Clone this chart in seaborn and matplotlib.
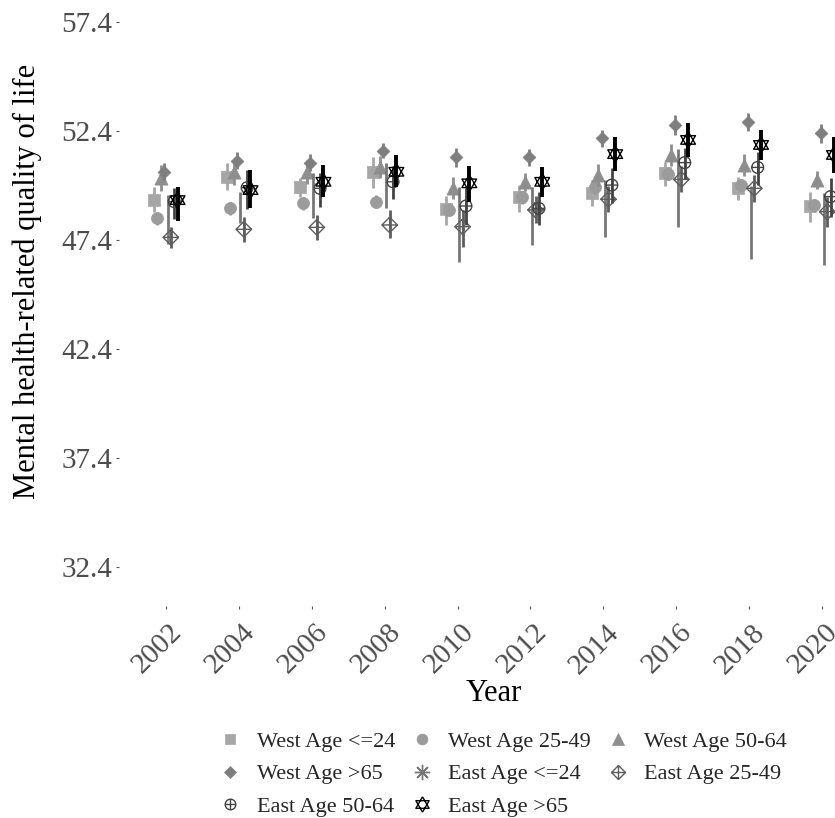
import numpy as np
import pandas as pd
import matplotlib
matplotlib.use("Agg")
import matplotlib.pyplot as plt
import matplotlib.transforms as mtransforms
from matplotlib.path import Path
from matplotlib.lines import Line2D
import seaborn as sns

# ---------------- data ----------------
years = [2002, 2004, 2006, 2008, 2010, 2012, 2014, 2016, 2018, 2020]
groups = ["West Age <=24", "West Age 25-49", "West Age 50-64", "West Age >65",
          "East Age <=24", "East Age 25-49", "East Age 50-64", "East Age >65"]
y_ticks = [32.4, 37.4, 42.4, 47.4, 52.4, 57.4]

west_le24 = [49.23, 50.30, 49.85, 50.53, 48.80, 49.36, 49.57, 50.49, 49.77, 48.96]
west_le24_lo = [48.70, 49.69, 49.39, 49.77, 48.10, 48.70, 48.96, 49.90, 49.23, 48.24]
west_le24_hi = [49.85, 50.92, 50.23, 51.19, 49.40, 49.92, 50.15, 51.00, 50.30, 49.62]

west_25_49 = [48.39, 48.85, 49.08, 49.16, 48.78, 49.36, 49.82, 50.43, 49.92, 49.00]
west_25_49_lo = [48.09, 48.55, 48.78, 48.86, 48.48, 49.06, 49.52, 50.13, 49.62, 48.70]
west_25_49_hi = [48.69, 49.15, 49.38, 49.46, 49.08, 49.66, 50.12, 50.73, 50.22, 49.30]

west_50_64 = [50.23, 50.53, 50.53, 50.76, 49.77, 50.07, 50.38, 51.30, 50.84, 50.15]
west_50_64_lo = [49.63, 49.93, 49.98, 50.26, 49.27, 49.67, 49.88, 50.80, 50.34, 49.75]
west_50_64_hi = [50.83, 51.13, 51.08, 51.26, 50.27, 50.47, 50.88, 51.80, 51.34, 50.55]

west_gt65 = [50.53, 51.04, 50.95, 51.50, 51.19, 51.19, 52.06, 52.68, 52.80, 52.29]
west_gt65_lo = [50.15, 50.66, 50.57, 51.15, 50.74, 50.79, 51.66, 52.23, 52.38, 51.87]
west_gt65_hi = [50.91, 51.42, 51.33, 51.85, 51.64, 51.59, 52.46, 53.13, 53.22, 52.71]

east_le24 = [48.65, 48.90, 49.46, 49.92, 48.09, 48.78, 48.85, 49.73, 48.09, 47.89]
east_le24_lo = [47.20, 48.20, 48.39, 48.85, 46.40, 47.17, 47.55, 47.98, 46.51, 46.25]
east_le24_hi = [49.45, 49.60, 50.46, 50.92, 49.85, 49.85, 50.15, 51.56, 49.90, 49.54]

east_25_49 = [47.52, 47.89, 47.98, 48.09, 48.01, 48.78, 49.27, 50.18, 49.77, 48.70]
east_25_49_lo = [47.02, 47.32, 47.40, 47.48, 47.09, 48.20, 48.70, 49.60, 49.16, 48.01]
east_25_49_hi = [48.01, 48.44, 48.55, 48.78, 48.78, 49.40, 49.90, 50.80, 50.38, 49.39]

east_50_64 = [49.16, 49.80, 49.77, 50.07, 48.96, 48.85, 49.92, 50.95, 50.73, 49.39]
east_50_64_lo = [48.35, 48.80, 48.93, 49.30, 48.09, 48.09, 49.08, 50.18, 49.92, 48.47]
east_50_64_hi = [49.80, 50.60, 50.46, 50.80, 49.77, 49.62, 50.69, 51.61, 51.45, 50.23]

east_gt65 = [49.23, 49.69, 50.07, 50.53, 50.00, 50.07, 51.34, 51.99, 51.76, 51.30]
east_gt65_lo = [48.29, 48.85, 49.39, 49.85, 49.16, 49.39, 50.58, 51.22, 51.07, 50.46]
east_gt65_hi = [49.82, 50.61, 50.84, 51.30, 50.79, 50.76, 52.11, 52.78, 52.45, 52.14]

series = [
    (west_le24, west_le24_lo, west_le24_hi),
    (west_25_49, west_25_49_lo, west_25_49_hi),
    (west_50_64, west_50_64_lo, west_50_64_hi),
    (west_gt65, west_gt65_lo, west_gt65_hi),
    (east_le24, east_le24_lo, east_le24_hi),
    (east_25_49, east_25_49_lo, east_25_49_hi),
    (east_50_64, east_50_64_lo, east_50_64_hi),
    (east_gt65, east_gt65_lo, east_gt65_hi),
]

rows = []
for gi, (g, (v, lo, hi)) in enumerate(zip(groups, series)):
    for yr, a, b, c in zip(years, v, lo, hi):
        rows.append({"Year": yr, "group": g, "gi": gi, "value": a, "lo": b, "hi": c})
df = pd.DataFrame(rows)

# ---------------- styles ----------------
M, L = Path.MOVETO, Path.LINETO
diamond_plus = Path([(0, 1), (1, 0), (0, -1), (-1, 0), (0, 1), (0, 1), (0, -1), (-1, 0), (1, 0)],
                    [M, L, L, L, L, M, L, M, L])
circ = Path.unit_circle()
circle_plus = Path.make_compound_path(circ, Path([(0, 1), (0, -1)], [M, L]),
                                      Path([(-1, 0), (1, 0)], [M, L]))
star_ud = Path([(0, 1), (0.866, -0.5), (-0.866, -0.5), (0, 1),
                (0, -1), (0.866, 0.5), (-0.866, 0.5), (0, -1)],
               [M, L, L, L, M, L, L, L])

colors = ["#A6A6A6", "#9B9B9B", "#8E8E8E", "#7E7E7E", "#777777", "#5E5E5E", "#444444", "#000000"]
markers = ["s", "o", "^", "D", (8, 2, 0), diamond_plus, circle_plus, star_ud]
filled = [True, True, True, True, False, False, False, False]
sizes = [70, 75, 90, 42, 150, 125, 72, 150]
err_lw = [2.0, 2.0, 2.0, 2.0, 2.0, 2.0, 2.0, 2.8]

sns.set_theme(style="white")
plt.rcParams["font.family"] = ["Liberation Serif", "DejaVu Serif"]

W, H = 835, 818
fig = plt.figure(figsize=(W / 100, H / 100), dpi=100)
pl, pr, pb, ptop = 119, 870, 606, 0
ax = fig.add_axes([pl / W, (H - pb) / H, (pr - pl) / W, (pb - ptop) / H])

step = 0.092
for gi, g in enumerate(groups):
    sub = df[df["group"] == g].copy()
    sub["xpos"] = sub["Year"] + (gi - 3.5) * step
    c = colors[gi]
    if filled[gi]:
        sns.scatterplot(data=sub, x="xpos", y="value", marker=markers[gi], s=sizes[gi],
                        color=c, edgecolor=c, linewidth=0.5, ax=ax, zorder=3 + gi * 0.1,
                        legend=False)
    else:
        sns.scatterplot(data=sub, x="xpos", y="value", marker=markers[gi], s=sizes[gi],
                        color=c, facecolor="none", edgecolor=c, linewidth=1.0, ax=ax,
                        zorder=3 + gi * 0.1, legend=False)
    ax.vlines(sub["xpos"], sub["lo"], sub["hi"], colors=c, linewidth=err_lw[gi],
              zorder=3.05 + gi * 0.1)

ax.set_xlim(2000.716, 2021.31)
ax.set_ylim(30.61, 58.41)
ax.set_xticks(years)
ax.set_xticklabels([str(y) for y in years])
ax.set_yticks(y_ticks)
ax.set_yticklabels([f"{t:.1f}" for t in y_ticks])
for s in ax.spines.values():
    s.set_visible(False)
ax.grid(False)

ax.tick_params(axis="both", which="both", length=2.5, width=0.8, color="#555555",
               labelsize=21, labelcolor="#4D4D4D")
ax.tick_params(axis="y", pad=2.5, left=True)
ax.tick_params(axis="x", pad=7, bottom=True)
offset = mtransforms.ScaledTranslation(2 / 72, 0, fig.dpi_scale_trans)
for lab in ax.get_xticklabels():
    lab.set_rotation(45)
    lab.set_ha("right")
    lab.set_va("top")
    lab.set_rotation_mode("anchor")
    lab.set_transform(lab.get_transform() + offset)

ax.set_xlabel("Year", fontsize=22, color="black")
ax.set_ylabel("Mental health-related quality of life", fontsize=22, color="black")
axw = pr - pl
axh = pb - ptop
ax.xaxis.set_label_coords((494 - pl) / axw, -(679 - pb) / axh)
ax.yaxis.set_label_coords((42 - pl) / axw, (pb - 281) / axh)

# legend (row-wise order like ggplot)
handles = []
for gi, g in enumerate(groups):
    c = colors[gi]
    ms = np.sqrt(sizes[gi]) * 0.9
    if filled[gi]:
        h = Line2D([], [], linestyle="none", marker=markers[gi], markersize=ms,
                   markerfacecolor=c, markeredgecolor=c, markeredgewidth=0.5)
    else:
        h = Line2D([], [], linestyle="none", marker=markers[gi], markersize=ms,
                   markerfacecolor="none", markeredgecolor=c, markeredgewidth=1.0)
    handles.append(h)
order = [0, 3, 6, 1, 4, 7, 2, 5]
fig.legend([handles[i] for i in order], [groups[i] for i in order], ncol=3,
           loc="center", bbox_to_anchor=(503 / W, (H - 774) / H), frameon=False,
           fontsize=16, handlelength=1.0, handletextpad=0.7, columnspacing=0.7,
           labelspacing=0.55, borderpad=0.2)

fig.savefig("out.png", dpi=100)
